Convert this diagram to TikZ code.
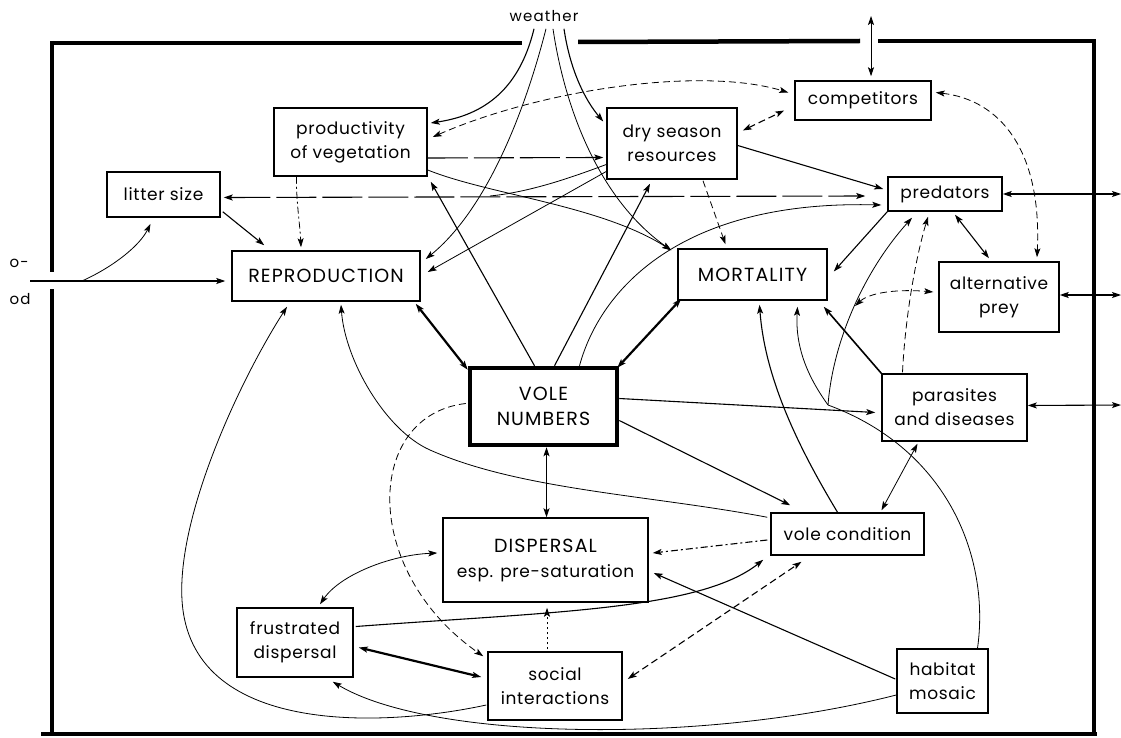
\documentclass[tikz,border=0pt]{standalone}
\usepackage{fontspec}
\setmainfont{Poppins}
\newfontfamily\lblfont{Poppins}[LetterSpace=4]
\newfontfamily\capfont{Poppins}[LetterSpace=6]
\newfontfamily\smlfont{Poppins}[LetterSpace=8]
\usetikzlibrary{arrows.meta,calc}
\begin{document}
\begin{tikzpicture}[x=1pt,y=-1pt,
  box/.style={draw,line width=1.5pt,inner sep=0pt,align=center,font=\lblfont\fontsize{17}{24}\selectfont},
  capbox/.style={box,font=\capfont\fontsize{19}{25}\selectfont},
  small/.style={font=\smlfont\fontsize{15}{17}\selectfont},
  ln/.style={line width=1.1pt},
  thinl/.style={line width=0.8pt},
  thk/.style={line width=2.2pt},
  dsh/.style={dash pattern=on 7pt off 4pt},
  ldash/.style={dash pattern=on 40pt off 6pt},
  ddot/.style={dash pattern=on 7pt off 3pt on 2pt off 3pt},
  dotl/.style={dash pattern=on 2pt off 3pt},
  framel/.style={line width=4.5pt},
  >={Stealth[length=9pt,width=6pt,inset=2pt]},
]
\fill[white] (0,0) rectangle (1121,738);
\useasboundingbox (0,0) rectangle (1121,738);

% frame
\draw[framel] (50,43) -- (522,43);
\draw[framel] (578,42) -- (860,41);
\draw[framel] (878,41) -- (1094,41) -- (1094,736);
\draw[framel] (41,734) -- (1097,734);
\draw[framel] (52,41) -- (52,272);
\draw[framel] (52,289) -- (52,736);

% nodes
\node[small,inner sep=1pt] (weather) at (544,16) {weather};
\node[small,anchor=west] (ot1) at (6,263) {o-};
\node[small,anchor=west] (ot2) at (6,299) {od};

\node[box,minimum width=153pt,minimum height=68pt] (prod) at (350.5,142) {productivity\\of vegetation};
\node[box,minimum width=130pt,minimum height=71pt] (dry) at (672,143.5) {dry season\\resources};
\node[box,minimum width=136pt,minimum height=39pt] (comp) at (863,100.5) {competitors};
\node[box,minimum width=113pt,minimum height=45pt] (litter) at (163.5,194.5) {litter size};
\node[box,minimum width=114pt,minimum height=34pt] (pred) at (945,194) {predators};
\node[capbox,minimum width=188pt,minimum height=50pt] (repro) at (326,276) {REPRODUCTION};
\node[capbox,minimum width=149pt,minimum height=51pt] (mort) at (752.5,274.5) {MORTALITY};
\node[box,minimum width=120pt,minimum height=70pt] (alt) at (999,297) {alternative\\prey};
\node[capbox,line width=4.5pt,minimum width=147pt,minimum height=77pt] (vole) at (543.5,406.5) {VOLE\\NUMBERS};
\node[box,minimum width=145pt,minimum height=67pt] (para) at (954.5,407.5) {parasites\\and diseases};
\node[capbox,minimum width=205pt,minimum height=84pt] (disp) at (545.5,560) {DISPERSAL\\{\lblfont\fontsize{17}{24}\selectfont esp. pre-saturation}};
\node[box,minimum width=153pt,minimum height=42pt] (vcond) at (847.5,534) {vole condition};
\node[box,minimum width=116pt,minimum height=69pt] (frus) at (295,642.5) {frustrated\\dispersal};
\node[box,minimum width=134pt,minimum height=68pt] (social) at (555,686) {social\\interactions};
\node[box,minimum width=91pt,minimum height=64pt] (habitat) at (942.5,681) {habitat\\mosaic};

% weather
\draw[ln,->] ($(weather.south)+(-10,6)$) .. controls (518,95) and (478,116) .. ($(prod.east)+(3,-19)$);
\draw[ln,->] ($(weather.south)+(20,6)$) .. controls (570,70) and (585,100) .. ($(dry.west)+(-3,-22)$);
\draw[thinl,->] ($(weather.south)+(2,6)$) .. controls (520,130) and (480,215) .. ($(repro.east)+(5,-17)$);
\draw[thinl,->] ($(weather.south)+(9,6)$) .. controls (565,110) and (600,200) .. ($(mort.north west)+(-6,2)$);

% competitors
\draw[thinl,dsh,<->] ($(prod.east)+(5,-5)$) .. controls (540,90) and (700,66) .. ($(comp.west)+(-6,-8)$);
\draw[ln,dsh,<->] ($(dry.east)+(5,-13)$) -- ($(comp.west)+(-10,10)$);
\draw[thinl,dsh,<->] ($(comp.east)+(4,-8)$) .. controls (1000,100) and (1042,150) .. ($(alt.north)+(38,-4)$);
\coordinate (compout) at (871,16);
\draw[thinl,<->] ($(comp.north)+(8,-4)$) -- (compout);

% left input
\coordinate (inL) at (30,281);
\coordinate (inBr) at (82,281);
\draw[ln,->] (inL) -- ($(repro.west)+(-6,5)$);
\draw[thinl,->] (inBr) .. controls (115,266) and (140,245) .. ($(litter.south)+(-13,6)$);

% productivity
\draw[ln,ldash,->] ($(prod.east)+(0,16)$) -- ($(dry.west)+(-3,14)$);
\draw[thinl,->] ($(prod.east)+(0,28)$) .. controls (490,195) and (600,205) .. ($(mort.north west)+(-6,2)$);
\draw[thinl,ddot,->] ($(prod.south)+(-54,0)$) .. controls (296,200) and (300,225) .. ($(repro.north)+(-25,-3)$);
\draw[ln,->] ($(litter.south east)+(2,-6)$) -- ($(repro.north west)+(33,-5)$);
\draw[ln,ldash,<->] ($(litter.east)+(3,3)$) -- ($(pred.west)+(-22,2)$);
\coordinate (m1) at (490,196);
\draw[thinl] ($(dry.west)+(0,21)$) .. controls (570,178) and (530,192) .. (m1);

% dry season
\draw[thinl,->] ($(dry.west)+(0,28)$) -- ($(repro.east)+(7,-4)$);
\draw[ln,->] ($(dry.east)+(0,2)$) -- ($(pred.west)+(-4,-5)$);
\draw[thinl,dsh,->] ($(dry.south)+(31,1)$) -- ($(mort.north)+(-27,-4)$);

% vole numbers
\draw[ln,->] ($(vole.north)+(-9,0)$) -- ($(prod.south east)+(3,5)$);
\draw[ln,->] ($(vole.north)+(11,0)$) -- ($(dry.south)+(-22,4)$);
\draw[thinl,->] ($(vole.north)+(36,0)$) .. controls (600,290) and (680,200) .. ($(pred.west)+(-6,11)$);
\draw[thk,<->] ($(vole.north west)+(0,4)$) -- ($(repro.south east)+(-5,2)$);
\draw[thk,<->] ($(vole.north east)+(-2,2)$) -- ($(mort.south west)+(4,-2)$);
\draw[ln,->] ($(vole.east)+(0,-8)$) -- ($(para.west)+(-6,5)$);
\draw[ln,->] ($(vole.east)+(0,14)$) -- ($(vcond.north west)+(20,-7)$);
\draw[ln,<->] ($(vole.south)+(3,0)$) -- ($(disp.north)+(1,0)$);
\draw[thinl,dsh,->] ($(vole.west)+(-2,-3)$) .. controls (365,415) and (360,570) .. ($(social.north west)+(-4,5)$);

% vole condition
\draw[thinl,->] ($(vcond.north west)+(-3,5)$) .. controls (650,495) and (520,490) .. (430,450) .. controls (385,430) and (345,360) .. ($(repro.south)+(15,3)$);
\draw[ln,ddot,->] ($(vcond.west)+(-3,6)$) -- ($(disp.east)+(4,-7)$);
\draw[ln,->] ($(vcond.north)+(-10,0)$) .. controls (800,450) and (765,380) .. ($(mort.south)+(7,4)$);
\draw[thinl,<->] ($(vcond.north)+(34,-2)$) -- ($(para.south)+(-37,2)$);

% parasites, predators
\draw[line width=1.6pt,->] (para.north west) -- ($(mort.south east)+(-4,6)$);
\draw[thinl,dsh,->] ($(para.north)+(-52,-1)$) .. controls (905,320) and (915,260) .. ($(pred.south)+(-17,5)$);
\draw[ln,->] (pred.south west) -- ($(mort.east)+(6,-3)$);
\draw[ln,<->] ($(pred.south)+(10,3)$) -- ($(alt.north)+(-10,-3)$);

% habitat curves
\coordinate (J1) at (828,405);
\coordinate (J2) at (855,306);
\draw[thinl] ($(habitat.north)+(35,0)$) .. controls (990,560) and (950,450) .. (J1);
\draw[thinl,->] (J1) .. controls (810,380) and (795,350) .. ($(mort.south)+(45,6)$);
\draw[thinl,->] (J1) .. controls (833,340) and (865,270) .. ($(pred.south)+(-33,6)$);
\draw[thinl,dsh,<->] (J2) .. controls (870,292) and (900,289) .. ($(alt.west)+(-5,-5)$);

% outside
\coordinate (oP) at (1121,194);
\coordinate (oA) at (1121,295);
\coordinate (oD) at (1121,405);
\draw[ln,<->] (pred.east) -- (oP);
\draw[ln,<->] ($(alt.east)+(0,-2)$) -- (oA);
\draw[ln,<->] ($(para.east)+(0,-2)$) -- (oD);

% bottom
\draw[thinl,<->] ($(disp.west)+(-5,-7)$) .. controls (390,555) and (340,575) .. ($(frus.north)+(25,-3)$);
\draw[thk,<->] ($(frus.east)+(5,5)$) -- ($(social.west)+(-6,-9)$);
\draw[ln,->] ($(frus.east)+(2,-16)$) .. controls (550,612) and (700,610) .. ($(vcond.south west)+(-7,4)$);
\draw[ln,dsh,<->] ($(social.east)+(5,-7)$) -- ($(vcond.south)+(-46,6)$);
\draw[thinl,dotl,->] ($(social.north)+(-8,-2)$) -- ($(disp.south)+(1.5,5)$);
\draw[ln,->] ($(habitat.west)+(-1,-2)$) -- ($(disp.east)+(5,13)$);
\draw[thinl,->] ($(habitat.west)+(0,14)$) .. controls (700,745) and (430,740) .. ($(frus.south east)+(-21,4)$);
\draw[thinl,->] ($(social.west)+(-1,19)$) .. controls (380,728) and (190,735) .. (182,600) .. controls (177,515) and (240,380) .. ($(repro.south)+(-39,5)$);
\end{tikzpicture}
\end{document}
